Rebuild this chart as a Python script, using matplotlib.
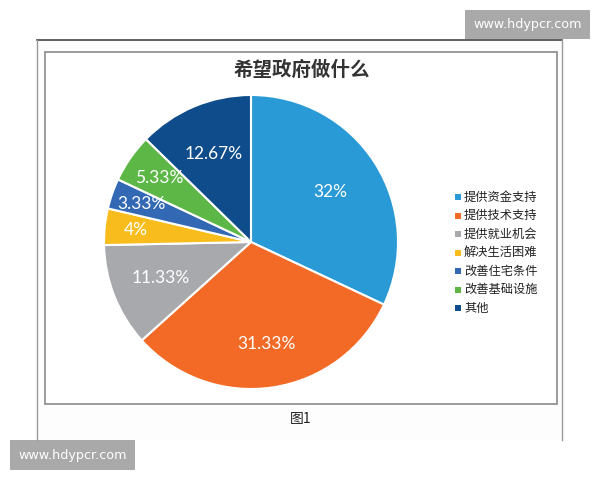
import matplotlib
matplotlib.use("Agg")
import matplotlib.pyplot as plt
import numpy as np
from matplotlib.patches import Rectangle

plt.rcParams['font.family'] = ['Noto Sans CJK SC', 'DejaVu Sans']

title = "希望政府做什么"
categories = ["提供资金支持", "提供技术支持", "提供就业机会", "解决生活困难",
              "改善住宅条件", "改善基础设施", "其他"]
values = [32, 31.33, 11.33, 4, 3.33, 5.33, 12.67]
value_labels = ["32%", "31.33%", "11.33%", "4%", "3.33%", "5.33%", "12.67%"]
colors = ["#2A9AD6", "#F26A26", "#A7A9AD", "#F8BD1C", "#3369B4", "#5CB747", "#0F4C8B"]
label_radius = [0.64, 0.70, 0.66, 0.79, 0.79, 0.76, 0.65]
caption = "图1"
watermark = "www.hdypcr.com"

W, H = 600, 480
fig = plt.figure(figsize=(6, 4.8), dpi=100)
fig.patch.set_facecolor("white")


def fx(x):
    return x / W


def fy(y):
    return 1 - y / H


# frames
bg = fig.add_axes([0, 0, 1, 1])
bg.set_xlim(0, W)
bg.set_ylim(H, 0)
bg.axis("off")
bg.add_patch(Rectangle((37, 40), 525, 400, facecolor="#fdfdfd", edgecolor="none"))
bg.plot([37, 562], [40, 40], color="#444444", lw=1.2)
bg.plot([37, 37], [40, 440], color="#9a9a9a", lw=1.0)
bg.plot([562, 562], [40, 440], color="#9a9a9a", lw=1.0)
bg.add_patch(Rectangle((45, 52), 512, 352, facecolor="white", edgecolor="#8a8a8a", lw=1.2))

# pie
cx, cy, r = 251, 242, 147
ax = fig.add_axes([fx(cx - r), fy(cy + r), 2 * r / W, 2 * r / H])
wedges, _ = ax.pie(values, colors=colors, startangle=90, counterclock=False,
                   radius=1, wedgeprops=dict(edgecolor="white", linewidth=1.5))
ax.set_xlim(-1, 1)
ax.set_ylim(-1, 1)
ax.set_aspect("equal")
ax.axis("off")

total = sum(values)
cum = 0
for v, lab, rr in zip(values, value_labels, label_radius):
    mid = 90 - (cum + v / 2) / total * 360
    cum += v
    a = np.deg2rad(mid)
    ax.text(rr * np.cos(a), rr * np.sin(a), lab, ha="center", va="center",
            color="white", fontsize=12.5, family=["Lato", "DejaVu Sans"])

# title
fig.text(fx(302), fy(70), title, ha="center", va="center", fontsize=14,
         fontweight="bold", color="#333333")

# legend
ys = [197, 215.5, 234, 252.5, 271, 289.5, 308]
for cat, col, y in zip(categories, colors, ys):
    bg.add_patch(Rectangle((455, y - 3), 6, 6, facecolor=col, edgecolor="none"))
    bg.text(464, y, cat, ha="left", va="center", fontsize=8.8, color="#222222")

# caption
fig.text(fx(301), fy(419), caption, ha="center", va="center", fontsize=10, color="#222222")

# watermarks
bg.add_patch(Rectangle((465, 10), 125, 29, facecolor="#a9a9a9", edgecolor="none"))
bg.text(527.5, 24.5, watermark, ha="center", va="center", fontsize=9.2,
        color="white", family="DejaVu Sans")
bg.add_patch(Rectangle((10, 440), 125, 30, facecolor="#a9a9a9", edgecolor="none"))
bg.text(72.5, 455, watermark, ha="center", va="center", fontsize=9.2,
        color="white", family="DejaVu Sans")

fig.savefig("out.png", dpi=100)
